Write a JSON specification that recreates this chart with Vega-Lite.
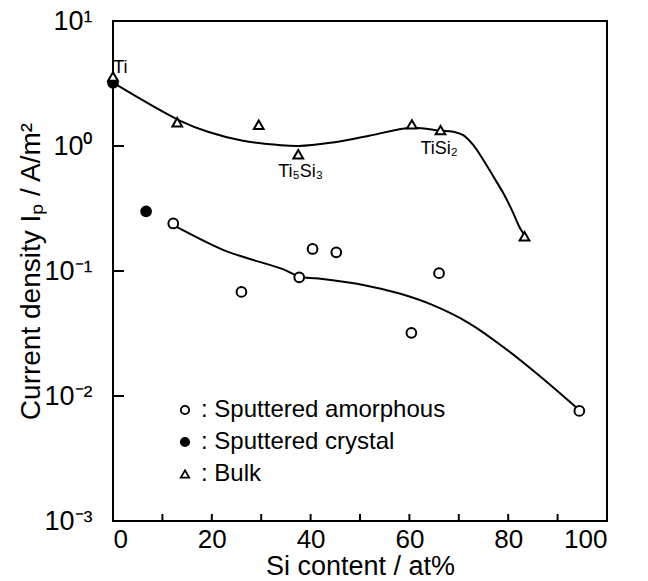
{
  "$schema": "https://vega.github.io/schema/vega-lite/v6.json",
  "width": 494,
  "height": 500,
  "autosize": {"type": "none"},
  "padding": {"left": 113, "top": 21, "right": 41, "bottom": 60},
  "background": "white",
  "config": {
    "font": "Liberation Sans",
    "view": {"stroke": "black", "strokeWidth": 2},
    "axis": {
      "domain": false,
      "grid": false,
      "ticks": false,
      "tickSize": 0,
      "labelFont": "Liberation Sans",
      "labelFontSize": 27,
      "labelColor": "black",
      "titleFont": "Liberation Sans",
      "titleFontWeight": "normal",
      "titleColor": "black"
    }
  },
  "datasets": {
    "measured": [
      {"si": 0, "ip": 3.2, "sample": "Sputtered crystal"},
      {"si": 6.7, "ip": 0.3, "sample": "Sputtered crystal"},
      {"si": 0, "ip": 3.6, "sample": "Bulk"},
      {"si": 13, "ip": 1.55, "sample": "Bulk"},
      {"si": 29.5, "ip": 1.48, "sample": "Bulk"},
      {"si": 37.5, "ip": 0.86, "sample": "Bulk"},
      {"si": 60.5, "ip": 1.49, "sample": "Bulk"},
      {"si": 66.3, "ip": 1.34, "sample": "Bulk"},
      {"si": 83.3, "ip": 0.19, "sample": "Bulk"},
      {"si": 12.2, "ip": 0.24, "sample": "Sputtered amorphous"},
      {"si": 26, "ip": 0.068, "sample": "Sputtered amorphous"},
      {"si": 37.7, "ip": 0.089, "sample": "Sputtered amorphous"},
      {"si": 40.4, "ip": 0.15, "sample": "Sputtered amorphous"},
      {"si": 45.2, "ip": 0.141, "sample": "Sputtered amorphous"},
      {"si": 60.4, "ip": 0.032, "sample": "Sputtered amorphous"},
      {"si": 66, "ip": 0.096, "sample": "Sputtered amorphous"},
      {"si": 94.4, "ip": 0.0076, "sample": "Sputtered amorphous"}
    ],
    "trend": [
      {"si": 0, "ip": 3.21, "series": "bulk"},
      {"si": 13.6, "ip": 1.59, "series": "bulk"},
      {"si": 19.2, "ip": 1.3, "series": "bulk"},
      {"si": 26.3, "ip": 1.1, "series": "bulk"},
      {"si": 33.4, "ip": 1.02, "series": "bulk"},
      {"si": 37.6, "ip": 1.0, "series": "bulk"},
      {"si": 44, "ip": 1.06, "series": "bulk"},
      {"si": 51.1, "ip": 1.19, "series": "bulk"},
      {"si": 60.4, "ip": 1.4, "series": "bulk"},
      {"si": 66.1, "ip": 1.33, "series": "bulk"},
      {"si": 68.9, "ip": 1.3, "series": "bulk"},
      {"si": 70.9, "ip": 1.22, "series": "bulk"},
      {"si": 72.9, "ip": 1.02, "series": "bulk"},
      {"si": 75, "ip": 0.77, "series": "bulk"},
      {"si": 77, "ip": 0.57, "series": "bulk"},
      {"si": 79, "ip": 0.42, "series": "bulk"},
      {"si": 80.7, "ip": 0.31, "series": "bulk"},
      {"si": 82.4, "ip": 0.22, "series": "bulk"},
      {"si": 83.3, "ip": 0.195, "series": "bulk"},
      {"si": 12.2, "ip": 0.233, "series": "amorphous"},
      {"si": 22.4, "ip": 0.147, "series": "amorphous"},
      {"si": 27.4, "ip": 0.126, "series": "amorphous"},
      {"si": 34.5, "ip": 0.103, "series": "amorphous"},
      {"si": 37.7, "ip": 0.09, "series": "amorphous"},
      {"si": 41.6, "ip": 0.087, "series": "amorphous"},
      {"si": 50.9, "ip": 0.077, "series": "amorphous"},
      {"si": 58, "ip": 0.066, "series": "amorphous"},
      {"si": 64.4, "ip": 0.054, "series": "amorphous"},
      {"si": 72.2, "ip": 0.038, "series": "amorphous"},
      {"si": 79.4, "ip": 0.024, "series": "amorphous"},
      {"si": 86.5, "ip": 0.0143, "series": "amorphous"},
      {"si": 94.4, "ip": 0.0077, "series": "amorphous"}
    ],
    "phases": [
      {"si": 1.5, "ip": 4.2, "name": "Ti", "anchor": "left"},
      {"si": 38, "ip": 0.62, "name": "Ti₅Si₃", "anchor": "center"},
      {"si": 66, "ip": 0.95, "name": "TiSi₂", "anchor": "center"}
    ],
    "siTicks": [
      {"si": 10, "ip": 0.001}, {"si": 20, "ip": 0.001}, {"si": 30, "ip": 0.001},
      {"si": 40, "ip": 0.001}, {"si": 50, "ip": 0.001}, {"si": 60, "ip": 0.001},
      {"si": 70, "ip": 0.001}, {"si": 80, "ip": 0.001}, {"si": 90, "ip": 0.001}
    ],
    "ipTicks": [
      {"si": 0, "ip": 0.01}, {"si": 0, "ip": 0.1}, {"si": 0, "ip": 1}
    ]
  },
  "encoding": {
    "x": {
      "field": "si",
      "type": "quantitative",
      "scale": {"domain": [0, 100], "nice": false, "zero": false},
      "axis": {
        "title": "Si content / at%",
        "titleFontSize": 27,
        "labelFontSize": 26,
        "values": [0, 20, 40, 60, 80, 100],
        "labelPadding": 5,
        "titlePadding": 1
      }
    },
    "y": {
      "field": "ip",
      "type": "quantitative",
      "scale": {"type": "log", "domain": [0.001, 10], "nice": false},
      "axis": {
        "title": "Current density Iₚ / A/m²",
        "titleFontSize": 28,
        "values": [0.001, 0.01, 0.1, 1, 10],
        "labelExpr": "datum.value > 5 ? '10¹' : datum.value > 0.5 ? '10⁰' : datum.value > 0.05 ? '10⁻¹' : datum.value > 0.005 ? '10⁻²' : '10⁻³'",
        "labelPadding": 21,
        "titlePadding": -2
      }
    }
  },
  "layer": [
    {
      "data": {"name": "trend"},
      "mark": {"type": "line", "interpolate": "catmull-rom", "color": "black", "strokeWidth": 2},
      "encoding": {"detail": {"field": "series"}}
    },
    {
      "data": {"name": "siTicks"},
      "mark": {"type": "point", "shape": "M0,0L0,-2", "size": 49, "filled": false, "color": "black", "strokeWidth": 2, "opacity": 1}
    },
    {
      "data": {"name": "ipTicks"},
      "mark": {"type": "point", "shape": "M0,0L2,0", "size": 121, "filled": false, "color": "black", "strokeWidth": 2, "opacity": 1}
    },
    {
      "data": {"name": "measured"},
      "mark": {"type": "point", "filled": true, "strokeWidth": 2, "size": 95, "opacity": 1},
      "encoding": {
        "shape": {
          "field": "sample",
          "type": "nominal",
          "scale": {"domain": ["Sputtered amorphous", "Sputtered crystal", "Bulk"], "range": ["circle", "circle", "triangle-up"]},
          "legend": {
            "title": null,
            "orient": "none",
            "legendX": 60,
            "legendY": 377,
            "padding": 0,
            "rowPadding": 8,
            "labelOffset": 4,
            "labelLimit": 0,
            "symbolSize": 70,
            "symbolStrokeWidth": 1.8,
            "labelFont": "Liberation Sans",
            "labelFontSize": 24,
            "labelColor": "black",
            "labelExpr": "': ' + datum.label"
          }
        },
        "fill": {
          "field": "sample",
          "type": "nominal",
          "scale": {"domain": ["Sputtered amorphous", "Sputtered crystal", "Bulk"], "range": ["white", "black", "white"]},
          "legend": {
            "title": null,
            "orient": "none",
            "legendX": 60,
            "legendY": 377,
            "padding": 0,
            "rowPadding": 8,
            "labelOffset": 4,
            "labelLimit": 0,
            "symbolSize": 70,
            "symbolStrokeWidth": 1.8,
            "labelFont": "Liberation Sans",
            "labelFontSize": 24,
            "labelColor": "black",
            "labelExpr": "': ' + datum.label"
          }
        },
        "stroke": {
          "field": "sample",
          "type": "nominal",
          "scale": {"domain": ["Sputtered amorphous", "Sputtered crystal", "Bulk"], "range": ["black", "black", "black"]},
          "legend": {
            "title": null,
            "orient": "none",
            "legendX": 60,
            "legendY": 377,
            "padding": 0,
            "rowPadding": 8,
            "labelOffset": 4,
            "labelLimit": 0,
            "symbolSize": 70,
            "symbolStrokeWidth": 1.8,
            "labelFont": "Liberation Sans",
            "labelFontSize": 24,
            "labelColor": "black",
            "labelExpr": "': ' + datum.label"
          }
        }
      }
    },
    {
      "data": {"name": "phases"},
      "mark": {"type": "text", "fontSize": 18, "font": "Liberation Sans", "fill": "black", "baseline": "middle"},
      "encoding": {
        "text": {"field": "name"},
        "align": {"field": "anchor", "type": "nominal", "scale": null}
      }
    }
  ]
}
